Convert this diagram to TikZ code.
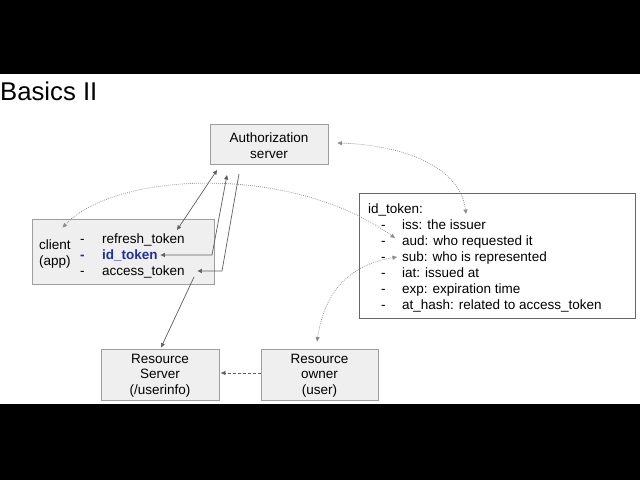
\documentclass[tikz,border=0pt]{standalone}
\usepackage{fontspec}
\setmainfont{Liberation Sans}
\usetikzlibrary{arrows.meta,calc}
\definecolor{boxfill}{HTML}{EFEFEF}
\definecolor{boxline}{HTML}{9E9E9E}
\definecolor{idline}{HTML}{666666}
\definecolor{conn}{HTML}{5F5F5F}
\definecolor{dotc}{HTML}{8C8C8C}
\definecolor{idblue}{HTML}{1F2FA0}
\begin{document}
\begin{tikzpicture}[x=1pt,y=-1pt,
  ah/.tip={Triangle[length=4.5pt,width=4pt]},
  gbox/.style={draw=boxline, fill=boxfill, line width=0.8pt, inner sep=0pt},
  wbox/.style={draw=idline, fill=white, line width=0.8pt, inner sep=0pt},
  lt/.style={inner sep=0pt, anchor=base west, font=\fontsize{13.5}{16}\selectfont},
  ct/.style={inner sep=0pt, anchor=base, font=\fontsize{13.5}{16}\selectfont},
  bt/.style={lt, text=idblue, font=\fontsize{13.5}{16}\selectfont\bfseries},
  conn/.style={draw=conn, line width=0.7pt},
  dconn/.style={draw=conn, line width=0.7pt, dash pattern=on 3pt off 2pt},
  dotl/.style={draw=dotc, line width=0.7pt, dash pattern=on 0.8pt off 1.2pt}]
\fill[black] (0,0) rectangle (640,74);
\fill[white] (0,74) rectangle (640,404);
\fill[black] (0,404) rectangle (640,480);
\useasboundingbox (0,0) rectangle (640,480);

\node[inner sep=0pt, anchor=base west, font=\fontsize{25.7}{30}\selectfont] (title) at (0,100) {Basics II};

% boxes
\node[gbox, minimum width=118pt, minimum height=40pt] (auth) at (269,144) {};
\node[gbox, minimum width=182pt, minimum height=65pt] (client) at (123,251.5) {};
\node[wbox, minimum width=276pt, minimum height=125pt] (idbox) at (497,255.5) {};
\node[gbox, minimum width=118pt, minimum height=51pt] (rs) at (160,374.5) {};
\node[gbox, minimum width=117pt, minimum height=51pt] (ro) at (319.5,374.5) {};

% auth text
\node[ct] (auth1) at (269,142.5) {Authorization};
\node[ct] (auth2) at (269,158) {server};

% client text
\node[lt] (cl1) at (39,249) {client};
\node[lt] (cl2) at (39,265) {(app)};
\node[lt] (d1) at (80,243) {-};
\node[bt] (d2) at (80,259) {-};
\node[lt] (d3) at (80,275) {-};
\node[lt] (ref) at (102,243) {refresh\_token};
\node[bt] (idt) at (102,259) {id\_token};
\node[lt] (acc) at (102,275) {access\_token};

% id_token box text
\node[lt] (idh) at (368,213) {id\_token:};
\foreach \yy/\nm/\tx in {229/iss/{iss: the issuer},245/aud/{aud: who requested it},261/sub/{sub: who is represented},277/iat/{iat: issued at},293/exp/{exp: expiration time},309/ath/{at\_hash: related to access\_token}}{
  \node[lt] (dash\nm) at (381,\yy) {-};
  \node[lt] (\nm) at (402,\yy) {\tx};
}

% resource server / owner text
\node[ct] (rs1) at (160,363) {Resource};
\node[ct] (rs2) at (160,378.5) {Server};
\node[ct] (rs3) at (160,394) {(/userinfo)};
\node[ct] (ro1) at (319.5,363) {Resource};
\node[ct] (ro2) at (319.5,378.5) {owner};
\node[ct] (ro3) at (319.5,394) {(user)};

% solid connectors
\coordinate (p1) at (217,170);
\coordinate (p2) at (177,230);
\draw[conn, ah-ah] (p1) -- (p2);
\coordinate (p3) at (227,175);
\coordinate (p4) at (212,255);
\draw[conn, ah-ah] (p3) -- (p4) -- ($(idt.base east)+(2.5,-4)$);
\coordinate (p5) at (239,174);
\coordinate (p6) at (222,271);
\draw[conn, -ah] (p5) -- (p6) -- ($(acc.base east)+(12.5,-4)$);
\coordinate (p7) at (194,277);
\draw[conn, -ah] (p7) -- ($(rs.north)+(1,-1)$);

% dashed connector
\draw[dconn, -ah] ($(ro.west)+(0,-1.5)$) -- ($(rs.east)+(1.5,-1.5)$);

% dotted curves
\draw[dotl, ah-ah] ($(client.north west)+(31,9)$) .. controls (115,172) and (290,163) .. ($(aud.base west)+(-7,-7)$);
\draw[dotl, ah-ah] ($(auth.east)+(9,-1)$) .. controls (400,145) and (460,165) .. (466,214);
\draw[dotl, ah-ah] ($(ro.north)+(-2.5,-7)$) .. controls (325,290) and (350,265) .. ($(sub.base west)+(-5,-4)$);
\end{tikzpicture}
\end{document}
